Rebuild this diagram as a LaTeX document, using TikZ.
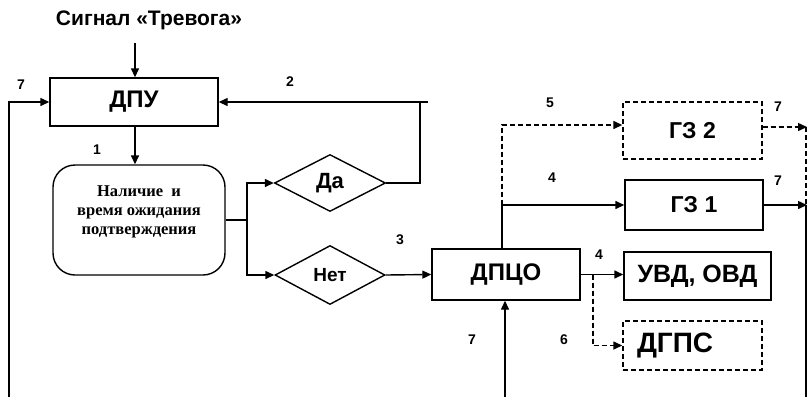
\documentclass[tikz,border=0pt]{standalone}
\usepackage{fontspec}
\setmainfont{Liberation Sans}
\newfontfamily\timesbf{Liberation Serif}
\usetikzlibrary{shapes.geometric,arrows.meta}
\tikzset{
  arr/.style={-{Triangle[length=9pt,width=8pt]}},
  box/.style={draw,line width=1.4pt,inner sep=0pt,font=\bfseries\fontsize{24}{27}\selectfont},
  dashbox/.style={box,dash pattern=on 5pt off 3pt},
  choice/.style={draw,diamond,line width=1.4pt,inner sep=0pt,font=\bfseries\fontsize{19}{22}\selectfont},
  num/.style={font=\bfseries\fontsize{14}{16}\selectfont},
  dsh/.style={dash pattern=on 5pt off 3pt}
}
\begin{document}
\begin{tikzpicture}[x=1pt,y=-1pt,line width=1.4pt]
\useasboundingbox (0,0) rectangle (808,397);

\node[font=\bfseries\fontsize{21}{24}\selectfont] (sig) at (149,20) {Сигнал «Тревога»};
\node[box,minimum width=168pt,minimum height=48pt] (dpu) at (134,102) {ДПУ};
\node[draw,rounded corners=22pt,minimum width=172pt,minimum height=110pt,
      align=center,font=\timesbf\bfseries\fontsize{16.5}{19}\selectfont] (wait) at (139,220)
      {Наличие\ \ и\\время ожидания\\подтверждения\\[0pt]};
\node[choice,minimum width=111pt,minimum height=57pt,font=\bfseries\fontsize{22}{25}\selectfont] (da) at (330,183) {Да};
\node[choice,minimum width=110pt,minimum height=59pt] (net) at (330,275) {Нет};
\node[box,minimum width=148pt,minimum height=51pt] (dpco) at (506,274.5) {ДПЦО};
\node[dashbox,minimum width=139pt,minimum height=57pt,font=\bfseries\fontsize{23}{26}\selectfont] (gz2) at (692.5,130.5) {ГЗ 2};
\node[box,minimum width=138pt,minimum height=50pt,font=\bfseries\fontsize{23}{26}\selectfont] (gz1) at (694,205) {ГЗ 1};
\node[box,minimum width=147pt,minimum height=48pt,font=\bfseries\fontsize{25}{28}\selectfont] (uvd) at (697.5,276) {УВД, ОВД};
\node[dashbox,minimum height=49pt,inner xsep=14pt,text width=111pt,align=left,
      font=\bfseries\fontsize{28}{31}\selectfont] (dgps) at (692.5,345.5) {ДГПС};

\coordinate (sigin) at (135,43);
\coordinate (back) at (9,397);
\coordinate (fork) at (247,220);
\coordinate (ret) at (420,102);
\coordinate (retend) at (428,102);
\coordinate (up) at (502,205);
\coordinate (turn) at (502,125);
\coordinate (r2) at (807,127);
\coordinate (r1) at (807,205);
\coordinate (rb) at (806,397);
\coordinate (br) at (593,274.5);
\coordinate (bot) at (505,397);

\draw[arr] (sigin) -- (sigin |- dpu.north);
\draw[arr] (back) |- (dpu.west);
\draw[arr] (dpu.south -| sigin) -- (wait.north -| sigin);
\draw (wait.east) -- (fork);
\draw[arr] (fork) |- (da.west);
\draw[arr] (fork) |- (net.west);
\draw (da.east) -| (ret);
\draw[arr] (retend) -- (dpu.east);
\draw[arr] (net.east) -- (dpco.west);
\draw (up |- dpco.north) -- (up);
\draw[arr] (up) -- (gz1.west);
\draw[dsh,arr] (up) -- (turn) -- (turn -| gz2.west);
\draw[dsh,arr] (gz2.east |- r2) -- (r2);
\draw[arr] (gz1.east) -- (r1);
\draw[dsh] ([xshift=-1pt]r2) -- ([xshift=-1pt]r1);
\draw ([xshift=-1pt]r1) -- (rb);
\draw[arr] (dpco.east) -- (dpco.east -| uvd.west);
\draw[dsh,arr] (br) |- (dgps.west);
\draw[arr] (bot) -- (bot |- dpco.south);

\node[num] (n7a) at (21,85) {7};
\node[num] (n2) at (290,82) {2};
\node[num] (n1) at (97,150) {1};
\node[num] (n3) at (400,240) {3};
\node[num] (n5) at (550,103) {5};
\node[num] (n4a) at (552,178) {4};
\node[num] (n4b) at (599,255) {4};
\node[num] (n6) at (564,340) {6};
\node[num] (n7b) at (472,340) {7};
\node[num] (n7c) at (778,107) {7};
\node[num] (n7d) at (778,181) {7};
\end{tikzpicture}
\end{document}
